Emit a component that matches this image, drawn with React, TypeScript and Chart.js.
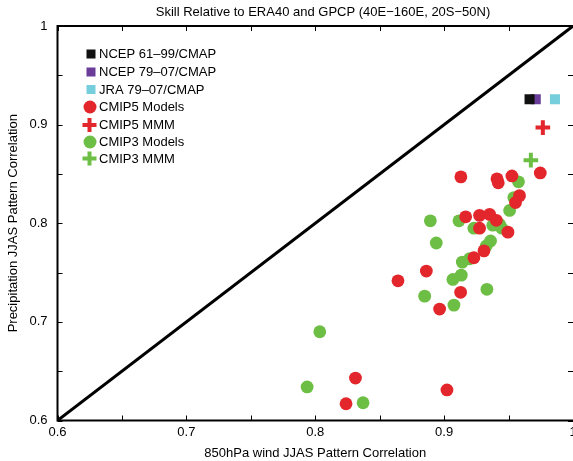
import React, { useEffect, useRef } from "react";
import { Chart, registerables } from "chart.js";

Chart.register(...registerables);

const TITLE = "Skill Relative to ERA40 and GPCP (40E\u2212160E, 20S\u221250N)";
const X_TITLE = "850hPa wind JJAS Pattern Correlation";
const Y_TITLE = "Precipitation JJAS Pattern Correlation";
const AXIS_MIN = 0.6;
const AXIS_MAX = 1.0;
const MINOR_TICKS = [0.6, 0.65, 0.7, 0.75, 0.8, 0.85, 0.9, 0.95, 1.0];

const NCEP6199 = [{ x: 0.9663, y: 0.9257 }];
const NCEP7907 = [{ x: 0.9711, y: 0.9257 }];
const JRA7907 = [{ x: 0.986, y: 0.9257 }];

const cmip5X = [0.913, 0.941, 0.942, 0.9526, 0.9746, 0.9585, 0.9554, 0.9167, 0.9275, 0.9353, 0.9405, 0.9275, 0.9495, 0.9309, 0.9231, 0.8862, 0.8642, 0.9128, 0.8965, 0.8312, 0.8239, 0.9022];
const cmip5Y = [0.847, 0.845, 0.841, 0.848, 0.851, 0.828, 0.821, 0.8065, 0.808, 0.809, 0.803, 0.795, 0.791, 0.772, 0.765, 0.7515, 0.7416, 0.73, 0.713, 0.643, 0.617, 0.631];

const cmip3X = [0.9577, 0.9541, 0.9508, 0.8893, 0.9115, 0.9231, 0.9378, 0.943, 0.9448, 0.8939, 0.936, 0.9327, 0.9198, 0.9141, 0.9133, 0.9068, 0.8849, 0.9332, 0.9076, 0.8035, 0.7937, 0.8371];
const cmip3Y = [0.842, 0.826, 0.813, 0.8025, 0.8025, 0.795, 0.798, 0.799, 0.795, 0.78, 0.782, 0.777, 0.764, 0.7606, 0.7474, 0.743, 0.7261, 0.733, 0.717, 0.69, 0.634, 0.618];

const cmip5MMM = [{ x: 0.9766, y: 0.897 }];
const cmip3MMM = [{ x: 0.9673, y: 0.864 }];

const RED = "#e2262b";
const GREEN = "#6dbe45";
const PURPLE = "#6a3d9a";
const CYAN = "#76cedc";
const BLACK = "#111111";
const FONT_FAMILY = '"Liberation Sans", Arial, Helvetica, sans-serif';

const LEGEND = [
  { label: "NCEP 61\u201399/CMAP", kind: "square", color: BLACK },
  { label: "NCEP 79\u201307/CMAP", kind: "square", color: PURPLE },
  { label: "JRA 79\u201307/CMAP", kind: "square", color: CYAN },
  { label: "CMIP5 Models", kind: "circle", color: RED },
  { label: "CMIP5 MMM", kind: "plus", color: RED },
  { label: "CMIP3 Models", kind: "circle", color: GREEN },
  { label: "CMIP3 MMM", kind: "plus", color: GREEN },
];

const zip = (xs: number[], ys: number[]) => xs.map((x, i) => ({ x, y: ys[i] }));

const decorPlugin = {
  id: "decor",
  afterDraw(chart: any) {
    const ctx = chart.ctx;
    const area = chart.chartArea;
    const xs = chart.scales.x;
    const ys = chart.scales.y;
    ctx.save();
    // title
    ctx.fillStyle = "#000";
    ctx.font = `13px ${FONT_FAMILY}`;
    ctx.textAlign = "center";
    ctx.textBaseline = "middle";
    ctx.fillText(TITLE, 323, 12);
    // frame
    ctx.strokeStyle = "#000";
    ctx.lineWidth = 2;
    ctx.beginPath();
    ctx.moveTo(area.right + 2, area.top);
    ctx.lineTo(area.left, area.top);
    ctx.lineTo(area.left, area.bottom);
    ctx.lineTo(area.right + 2, area.bottom);
    ctx.stroke();
    // inward ticks
    ctx.lineWidth = 1;
    ctx.beginPath();
    for (const v of MINOR_TICKS) {
      const px = Math.round(xs.getPixelForValue(v)) + 0.5;
      ctx.moveTo(px, area.bottom);
      ctx.lineTo(px, area.bottom - 5);
      ctx.moveTo(px, area.top);
      ctx.lineTo(px, area.top + 5);
      const py = Math.round(ys.getPixelForValue(v)) + 0.5;
      ctx.moveTo(area.left, py);
      ctx.lineTo(area.left + 5, py);
      ctx.moveTo(area.right, py);
      ctx.lineTo(area.right - 5, py);
    }
    ctx.stroke();
    // legend
    const rows = [54, 72, 89.5, 107, 125, 142, 158.5];
    ctx.textAlign = "left";
    LEGEND.forEach((e, i) => {
      const y = rows[i];
      const cx = 91;
      ctx.fillStyle = e.color;
      ctx.strokeStyle = e.color;
      if (e.kind === "square") {
        ctx.fillRect(cx - 4.5, y - 4.5, 9, 9);
      } else if (e.kind === "circle") {
        ctx.beginPath();
        ctx.arc(cx - 1, y, 6.5, 0, Math.PI * 2);
        ctx.fill();
      } else {
        ctx.lineWidth = 4;
        ctx.beginPath();
        ctx.moveTo(cx - 8.5, y);
        ctx.lineTo(cx + 5.5, y);
        ctx.moveTo(cx - 1.5, y - 7);
        ctx.lineTo(cx - 1.5, y + 7);
        ctx.stroke();
      }
      ctx.fillStyle = "#000";
      ctx.fillText(e.label, 99, y + 0.5);
    });
    ctx.restore();
  },
};

export default function App() {
  const ref = useRef<HTMLCanvasElement>(null);
  useEffect(() => {
    document.body.style.margin = "0";
    const canvas = ref.current!;
    const chart = new Chart(canvas, {
      type: "scatter",
      data: {
        datasets: [
          {
            type: "line",
            data: [
              { x: AXIS_MIN, y: AXIS_MIN },
              { x: AXIS_MAX, y: AXIS_MAX },
            ],
            borderColor: "#000",
            borderWidth: 3,
            pointRadius: 0,
            fill: false,
          } as any,
          { data: NCEP6199, pointStyle: "rect", pointRadius: 7.1, backgroundColor: BLACK, borderWidth: 0 },
          { data: NCEP7907, pointStyle: "rect", pointRadius: 7.1, backgroundColor: PURPLE, borderWidth: 0 },
          { data: JRA7907, pointStyle: "rect", pointRadius: 7.1, backgroundColor: CYAN, borderWidth: 0 },
          { data: zip(cmip5X, cmip5Y), pointStyle: "circle", pointRadius: 6.4, backgroundColor: RED, borderWidth: 0 },
          { data: zip(cmip3X, cmip3Y), pointStyle: "circle", pointRadius: 6.4, backgroundColor: GREEN, borderWidth: 0 },
          { data: cmip5MMM, pointStyle: "cross", pointRadius: 7.3, borderColor: RED, borderWidth: 4 },
          { data: cmip3MMM, pointStyle: "cross", pointRadius: 7.3, borderColor: GREEN, borderWidth: 4 },
        ],
      },
      options: {
        animation: false,
        responsive: false,
        devicePixelRatio: 1,
        layout: { autoPadding: false, padding: { top: 26, left: 0, right: 0, bottom: 0 } },
        plugins: { legend: { display: false }, tooltip: { enabled: false } },
        scales: {
          x: {
            type: "linear",
            min: AXIS_MIN,
            max: AXIS_MAX,
            grid: { display: false, drawTicks: false },
            border: { display: false },
            ticks: {
              stepSize: 0.1,
              padding: 4,
              maxRotation: 0,
              color: "#000",
              font: { family: FONT_FAMILY, size: 13 },
              callback: (v: any) => (Math.abs(v - 1) < 1e-6 ? "1" : Number(v).toFixed(1)),
            },
            title: {
              display: true,
              text: X_TITLE,
              color: "#000",
              font: { family: FONT_FAMILY, size: 13 },
              padding: { top: 2, bottom: 0 },
            },
            afterFit: (s: any) => {
              s.height = 40.5;
              s.paddingLeft = 0;
              s.paddingRight = 0;
            },
          },
          y: {
            type: "linear",
            min: AXIS_MIN,
            max: AXIS_MAX,
            grid: { display: false, drawTicks: false },
            border: { display: false },
            ticks: {
              stepSize: 0.1,
              padding: 10,
              color: "#000",
              font: { family: FONT_FAMILY, size: 13 },
              callback: (v: any) => (Math.abs(v - 1) < 1e-6 ? "1" : Number(v).toFixed(1)),
            },
            title: {
              display: true,
              text: Y_TITLE,
              color: "#000",
              font: { family: FONT_FAMILY, size: 13 },
              padding: { top: 6, bottom: 0 },
            },
            afterFit: (s: any) => {
              s.width = 57.5;
              s.paddingTop = 0;
              s.paddingBottom = 0;
            },
          },
        },
      },
      plugins: [decorPlugin],
    } as any);
    return () => chart.destroy();
  }, []);
  return (
    <div style={{ width: 573, height: 461, position: "relative" }}>
      <canvas ref={ref} width={573} height={461} style={{ display: "block" }} />
    </div>
  );
}
